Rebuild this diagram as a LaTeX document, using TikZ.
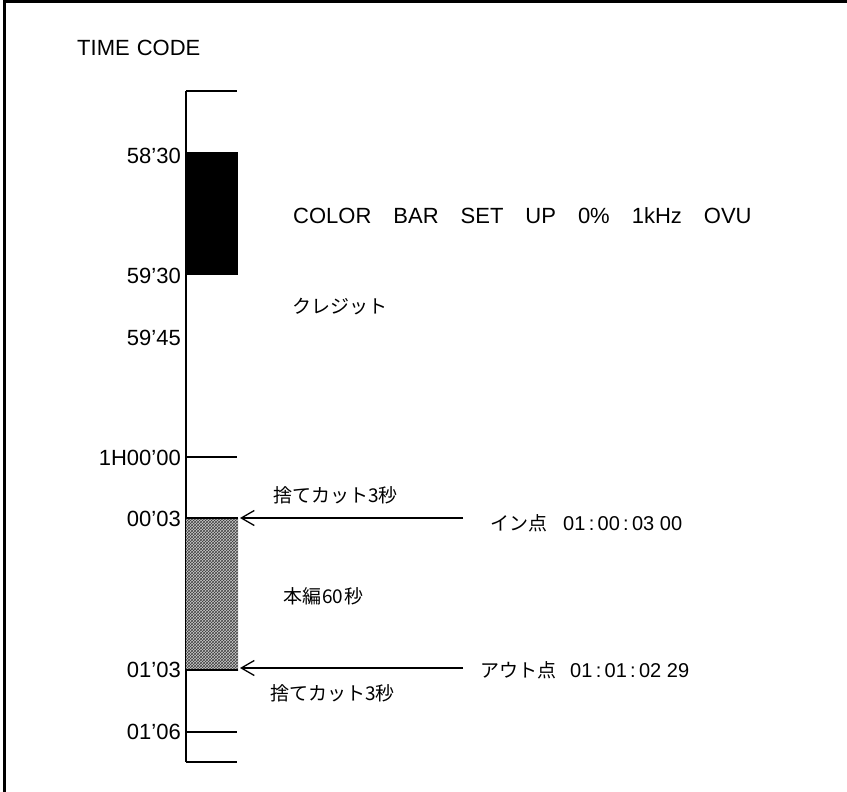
\documentclass[tikz,border=0pt]{standalone}
\usepackage{fontspec}
\setmainfont{Liberation Sans}
\newfontfamily\jp{Noto Sans CJK JP}
\usetikzlibrary{positioning,calc,patterns,arrows.meta}

\begin{document}
\begin{tikzpicture}[x=1pt,y=-1pt,
    lbl/.style={anchor=east,inner sep=0pt,font=\fontsize{22}{22}\selectfont},
    txt/.style={anchor=west,inner sep=0pt,font=\fontsize{22}{22}\selectfont},
    jtxt/.style={anchor=west,inner sep=0pt,font=\jp\fontsize{19}{19}\selectfont},
    tick/.style={line width=1.3pt},
    endtick/.style={line width=2.8pt},
    arr/.style={line width=1.3pt,-{Straight Barb[length=13pt,width=15pt,line width=1.3pt]}}]
    \useasboundingbox (0,0) rectangle (847,792);
    % frame
    \draw[line width=3pt] (4,792) -- (4,1.5) -- (847,1.5);

    \node[txt] (tc) at (77,48) {TIME\hspace{7pt}CODE};

    % time axis
    \coordinate (axtop) at (186,91);
    \coordinate (axbot) at (186,762);
    \draw[line width=2pt] (axtop) -- (axbot);
    \draw[endtick] (axtop) -- ++(51,0);
    \draw[endtick] (axbot) -- ++(51,0);

    % colour bar block
    \fill[black] (186,152) rectangle (238,275);
    % programme block
    \fill[gray!40] (186,518) rectangle (238,670);
    \fill[pattern=crosshatch,pattern color=black!75] (186,518) rectangle (238,670);
    \draw[line width=1.8pt] (186,518) -- (238,518);
    \draw[line width=1.8pt] (186,670) -- (238,670);
    \coordinate (inpt-end) at (240,518);
    \coordinate (outpt-end) at (240,668);

    % ticks
    \draw[tick] (186,457) -- (237,457);
    \draw[tick] (186,732) -- (237,732);

    % time labels
    \node[lbl] (t5830) at (181,156) {58'30};
    \node[lbl] (t5930) at (181,276) {59'30};
    \node[lbl] (t5945) at (181,338) {59'45};
    \node[lbl] (t1h) at (181,458) {1H00'00};
    \node[lbl] (t0003) at (181,519) {00'03};
    \node[lbl] (t0103) at (181,670) {01'03};
    \node[lbl] (t0106) at (181,732) {01'06};

    % descriptions
    \node[txt] (colorbar) at (293,216) {COLOR\hspace{22pt}BAR\hspace{22pt}SET\hspace{22pt}UP\hspace{22pt}0\%\hspace{22pt}1kHz\hspace{22pt}OVU};
    \node[jtxt] (credit) at (292,307) {クレジット};
    \node[jtxt] (cutA) at (273,495) {捨てカット3秒};
    \node[jtxt] (honpen) at (283,596) {本編\hspace{1pt}60\hspace{1pt}秒};
    \node[jtxt] (cutB) at (270,693) {捨てカット3秒};
    \node[jtxt] (inpt) at (490,523) {イン点\hspace{16pt}{\rmfamily\fontsize{20}{20}\selectfont 01\,:\,00\,:\,03 00}};
    \node[jtxt] (outpt) at (480,670) {アウト点\hspace{14pt}{\rmfamily\fontsize{20}{20}\selectfont 01\,:\,01\,:\,02 29}};

    % in / out arrows
    \coordinate (inpt-start) at (463,518);
    \coordinate (outpt-start) at (463,668);
    \draw[arr] (inpt-start) -- (inpt-end);
    \draw[arr] (outpt-start) -- (outpt-end);
\end{tikzpicture}
\end{document}
